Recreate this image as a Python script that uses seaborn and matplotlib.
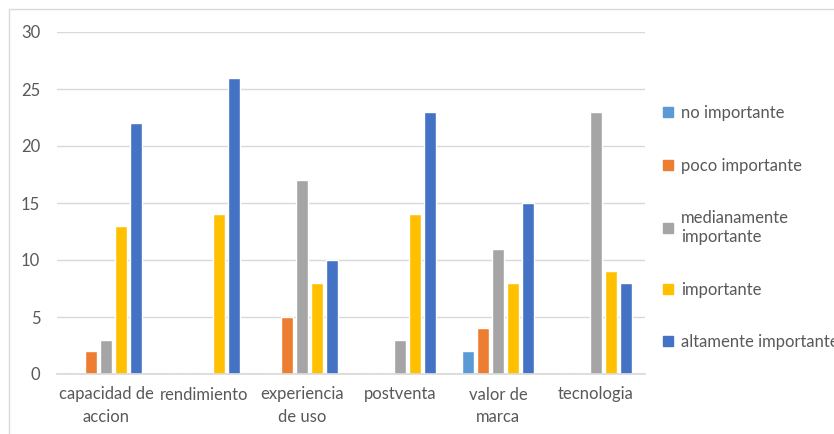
import matplotlib
matplotlib.use("Agg")
import matplotlib.pyplot as plt
import seaborn as sns
import pandas as pd
from matplotlib.lines import Line2D

categories = ["capacidad de\naccion", "rendimiento", "experiencia\nde uso",
              "postventa", "valor de\nmarca", "tecnologia"]
series_names = ["no importante", "poco importante", "medianamente\nimportante",
                "importante", "altamente importante"]
no_importante = [0, 0, 0, 0, 2, 0]
poco_importante = [2, 0, 5, 0, 4, 0]
medianamente_importante = [3, 0, 17, 3, 11, 23]
importante = [13, 14, 8, 14, 8, 9]
altamente_importante = [22, 26, 10, 23, 15, 8]
y_ticks = [0, 5, 10, 15, 20, 25, 30]
colors = ["#5B9BD5", "#ED7D31", "#A5A5A5", "#FFC000", "#4472C4"]

series_values = [no_importante, poco_importante, medianamente_importante,
                 importante, altamente_importante]
rows = []
for name, vals in zip(series_names, series_values):
    for cat, v in zip(categories, vals):
        rows.append({"categoria": cat, "serie": name, "valor": v})
df = pd.DataFrame(rows)

sns.set_theme(style="white")
plt.rcParams["font.family"] = ["Lato", "DejaVu Sans"]
text_color = "#595959"
fs = 12

fig = plt.figure(figsize=(8.34, 4.34), dpi=100)
ax = fig.add_axes([57/834, 1-374/434, (645-57)/834, (374-32)/434])

sns.barplot(data=df, x="categoria", y="valor", hue="serie", order=categories,
            hue_order=series_names, palette=colors, width=0.77, gap=0.2,
            saturation=1, ax=ax, legend=False, errorbar=None)

ax.set_ylim(0, 30)
ax.set_yticks(y_ticks)
ax.set_xlim(-0.5, len(categories) - 0.5)
ax.yaxis.grid(True, color="#D9D9D9", linewidth=1)
ax.set_axisbelow(True)
for s in ["top", "right", "left"]:
    ax.spines[s].set_visible(False)
ax.spines["bottom"].set_color("#D9D9D9")
ax.set_xlabel("")
ax.set_ylabel("")
ax.tick_params(axis="both", length=0, labelsize=fs, colors=text_color)
ax.tick_params(axis="y", pad=12)
ax.tick_params(axis="x", pad=9)
for lbl in ax.get_xticklabels():
    lbl.set_linespacing(1.5)

handles = [Line2D([], [], marker="s", linestyle="none", markersize=7,
                  markerfacecolor=c, markeredgecolor=c) for c in colors]
leg = fig.legend(handles, series_names, loc="upper left",
                 bbox_to_anchor=(646/834, 1-90/434), frameon=False,
                 fontsize=fs, labelspacing=2.2, handlelength=0.8,
                 handletextpad=0.4, labelcolor=text_color)

# outer chart frame (cropped, as in the reference)
fig.add_artist(Line2D([9/834, 1], [1-9/434, 1-9/434], transform=fig.transFigure,
                      color="#D9D9D9", linewidth=1))
fig.add_artist(Line2D([9/834, 9/834], [0, 1-9/434], transform=fig.transFigure,
                      color="#D9D9D9", linewidth=1))

fig.savefig("out.png", dpi=100)
